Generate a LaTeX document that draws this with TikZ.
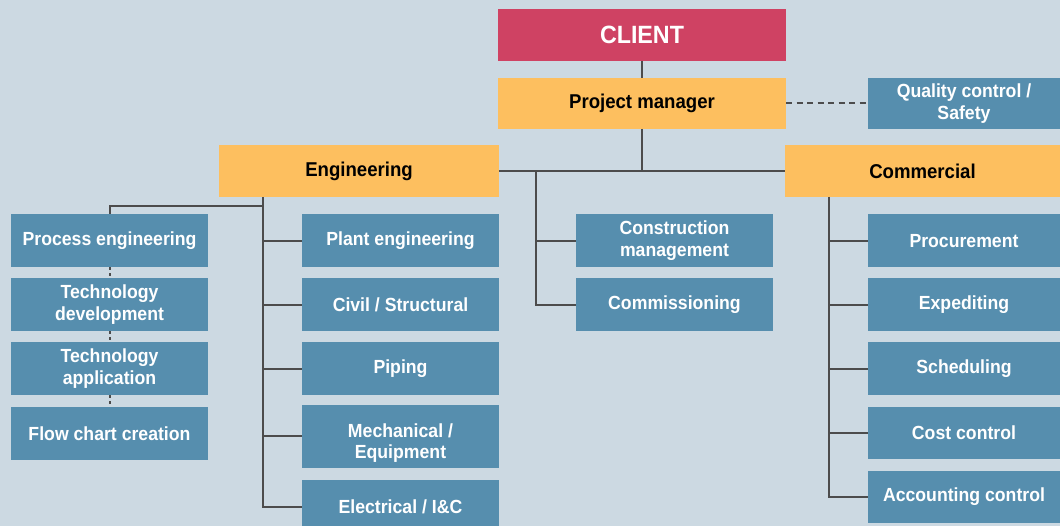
\documentclass[tikz,border=0pt]{standalone}
\usepackage{fontspec}
\setmainfont[FakeStretch=0.93]{Liberation Sans}
\definecolor{bgc}{HTML}{CCD9E2}
\definecolor{redc}{HTML}{CF4263}
\definecolor{orc}{HTML}{FDBF5F}
\definecolor{bluec}{HTML}{568EAE}
\definecolor{linec}{HTML}{4C4C4C}
\begin{document}
\begin{tikzpicture}[x=1pt,y=-1pt,
  every node/.style={inner sep=0pt, outer sep=0pt, align=center},
  base/.style={rectangle, font=\bfseries\fontsize{19}{21.5}\selectfont},
  bluebox/.style={base, fill=bluec, text=white, minimum width=197pt, minimum height=52.7pt},
  rbox/.style={bluebox, minimum width=192pt},
  orbox/.style={base, fill=orc, text=black, font=\bfseries\fontsize{20}{22}\selectfont, minimum height=52pt},
  wtext/.style={base, text=white},
  conn/.style={draw=linec, line width=2pt},
  dconn/.style={draw=linec, line width=2pt, dash pattern=on 6pt off 4.5pt},
  sconn/.style={draw=linec, line width=2pt, dash pattern=on 3pt off 3pt}
]
\useasboundingbox (0,0) rectangle (1060,526);
\fill[bgc] (0,0) rectangle (1060,526);

% top
\node[base, fill=redc, text=white, font=\bfseries\fontsize{25}{27}\selectfont, minimum width=288pt, minimum height=52pt] (client) at (642,35) {CLIENT};
\node[orbox, minimum width=288pt, minimum height=51pt] (pm) at (642,103.5) {Project manager};
\node[rbox, minimum height=51pt] (qc) at (964,103.5) {Quality control /\\Safety};
\node[orbox, minimum width=280pt] (eng) at (359,171) {Engineering};
\node[orbox, minimum width=275pt] (com) at (922.5,171) {Commercial};

% left column
\node[bluebox] (proc) at (109.5,240.8) {Process engineering};
\node[bluebox] (tdev) at (109.5,304.8) {Technology\\development};
\node[bluebox] (tapp) at (109.5,368.8) {Technology\\application};
\node[bluebox] (flow) at (109.5,433.3) {Flow chart creation};

% engineering column
\node[bluebox] (plant) at (400.5,240.8) {Plant engineering};
\node[bluebox] (civil) at (400.5,304.8) {Civil / Structural};
\node[bluebox] (pipe) at (400.5,368.8) {Piping};
\node[bluebox, minimum height=62.7pt] (mech) at (400.5,436.3) {};
\node[wtext] (mechtxt) at (400.5,443) {Mechanical /\\Equipment};
\node[bluebox] (elec) at (400.5,506.7) {Electrical / I\&C};

% middle column
\node[bluebox] (cons) at (674.5,240.8) {Construction\\management};
\node[bluebox] (comm) at (674.5,304.8) {Commissioning};

% commercial column
\node[rbox] (proc2) at (964,240.8) {Procurement};
\node[rbox] (exp) at (964,304.8) {Expediting};
\node[rbox] (sched) at (964,368.8) {Scheduling};
\node[rbox] (cost) at (964,433) {Cost control};
\node[rbox] (acc) at (964,497) {Accounting control};

% connectors
\draw[conn] (client.south) -- (pm.north);
\draw[conn] (pm.south) -- (pm.south |- eng.east);
\draw[conn] (eng.east) -- (com.west);
\draw[dconn] (pm.east) -- (qc.west);

\coordinate (m0) at (536,171);
\draw[conn] (m0) |- (comm.west);
\draw[conn] (m0 |- cons.west) -- (cons.west);

\coordinate (e0) at (262.7,197);
\coordinate (e1) at (262.7,206);
\draw[conn] (e0) |- (elec.west);
\draw[conn] (e1) -| (proc.north);
\draw[conn] (e0 |- plant.west) -- (plant.west);
\draw[conn] (e0 |- civil.west) -- (civil.west);
\draw[conn] (e0 |- pipe.west) -- (pipe.west);
\draw[conn] (e0 |- mech.west) -- (mech.west);

\draw[sconn] (proc.south) -- (tdev.north);
\draw[sconn] (tdev.south) -- (tapp.north);
\draw[sconn] (tapp.south) -- (flow.north);

\coordinate (c0) at (828.7,197);
\draw[conn] (c0) |- (acc.west);
\draw[conn] (c0 |- proc2.west) -- (proc2.west);
\draw[conn] (c0 |- exp.west) -- (exp.west);
\draw[conn] (c0 |- sched.west) -- (sched.west);
\draw[conn] (c0 |- cost.west) -- (cost.west);
\end{tikzpicture}
\end{document}
